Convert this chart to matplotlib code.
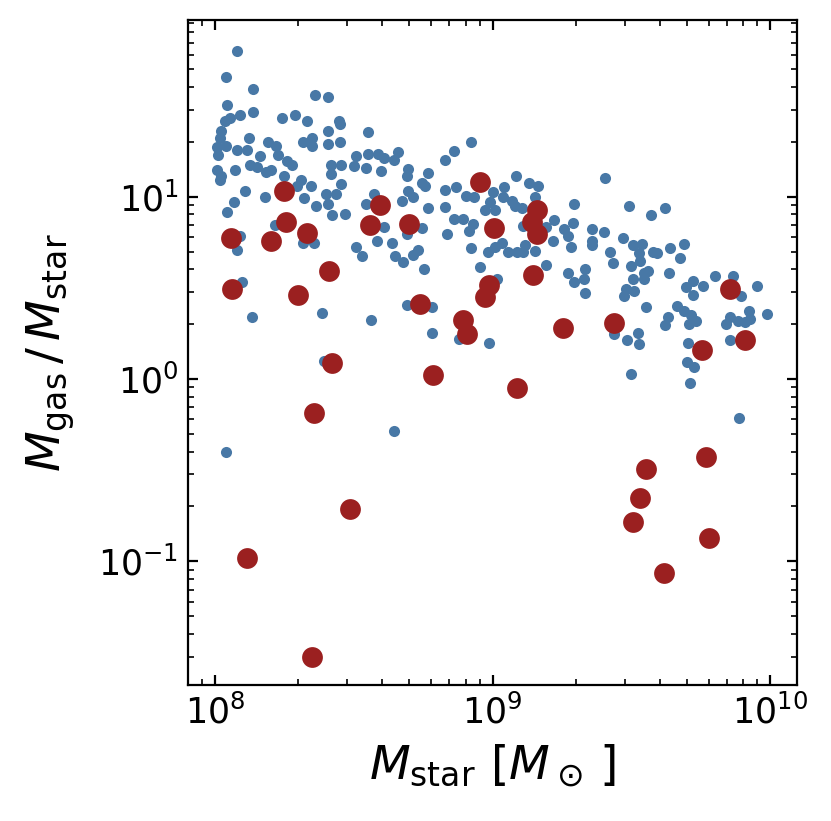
import matplotlib
matplotlib.use("Agg")
import matplotlib.pyplot as plt
import numpy as np

# stellar mass in units of 1e8 Msun, gas-to-stellar mass ratio
field_mstar = [
    1.20, 1.10, 1.37, 1.11, 1.37, 1.23, 1.13, 1.09, 1.74, 1.95, 2.15, 2.30, 2.55, 2.80, 2.82,
    1.05, 1.04, 1.02, 1.10, 1.03, 1.33, 1.55, 1.66, 1.69, 1.20, 1.30, 2.08, 2.24, 2.24, 2.55,
    2.55, 2.82, 1.02, 1.05, 1.04, 1.18, 1.34, 1.45, 1.42, 1.53, 1.59, 1.82, 1.89, 1.77, 1.97,
    2.05, 2.22, 2.62, 2.84, 2.62, 2.84, 1.28, 1.51, 1.17, 1.11, 2.10, 2.32, 2.51, 2.73, 2.55,
    2.65, 2.94, 1.65, 1.23, 1.20, 1.25, 1.36, 2.44, 2.47, 2.07, 2.28, 1.10, 4.43,
    3.55, 3.22, 3.55, 3.88, 4.05, 4.55, 4.40, 3.16, 3.49, 3.95, 4.97, 4.93, 5.87, 5.57, 5.71,
    6.75, 7.26, 8.40, 6.75, 7.38, 8.00, 8.55, 4.97, 5.18, 4.73, 3.75, 3.49, 5.87, 6.75, 10.0,
    9.8, 9.4, 10.2,
    4.05, 3.85, 4.36, 3.22, 3.38, 4.47, 4.77, 5.18, 5.40, 5.66, 4.93, 5.57, 7.26, 7.80, 8.20,
    8.50, 6.88, 8.40, 9.00, 9.60, 10.25, 4.93, 6.05, 3.64, 6.05, 7.60, 9.70, 10.4,
    12.2, 13.5, 14.6, 25.5, 11.0, 10.9, 11.8, 12.1, 12.8, 14.2, 16.7, 19.6, 19.5, 18.1, 18.7,
    19.2, 22.9, 22.9, 22.9, 25.3, 29.5, 31.0, 37.2, 32.0, 34.7, 33.8, 34.1, 26.4, 27.2, 31.6,
    35.2, 36.3, 32.1, 30.2, 32.3, 29.7, 21.5, 21.3, 18.7, 19.6, 21.5, 16.5, 15.6, 14.2, 13.1,
    12.3, 11.4, 12.9, 10.8, 12.9, 15.6,
    35.2, 35.7, 27.5, 30.6, 33.5, 33.8, 31.6,
    41.8, 38.0, 39.2, 43.6, 48.9, 47.3, 43.3, 52.6, 49.7, 52.6, 57.1, 63.1, 73.5, 78.7, 89.9,
    46.1, 48.9, 51.8, 54.0, 50.9, 42.9, 41.8, 69.6, 72.0, 76.8, 83.6, 84.3, 80.9, 97.3, 72.0,
    50.5, 50.1, 53.0, 51.3, 77.5,
]
field_ratio = [
    63, 45, 39, 32, 29, 28, 27, 26, 27, 28, 26, 36, 35, 26, 25,
    23, 21, 18.7, 19, 17, 21, 20, 19, 17, 18, 18, 20, 21, 19, 23,
    19.5, 20, 14, 13, 12.4, 14, 15, 16.6, 14.6, 13.6, 14, 15.6, 15, 13, 11.5,
    12.3, 11.4, 15, 15, 13.3, 11.8, 10.8, 10, 9.4, 8.2, 9.8, 8.9, 10.4, 10.4, 9.1,
    7.9, 8.0, 7.0, 6.1, 5.1, 3.4, 2.2, 2.3, 1.26, 5.6, 5.55, 0.40, 0.52,
    22.7, 16.7, 17.2, 17.2, 16.2, 17.6, 15.8, 14.8, 14.3, 13.8, 14.1, 12.9, 13.5, 11.9, 11.5,
    15.8, 17.8, 20, 10.9, 11.3, 10.1, 9.9, 10.8, 10, 9.5, 10.4, 9.1, 8.7, 8.8, 10.6,
    9.4, 8.4, 8.4,
    6.8, 5.7, 5.6, 5.3, 4.7, 4.75, 4.4, 4.8, 5.1, 4.0, 6.2, 6.7, 7.55, 7.55, 6.5,
    7.1, 6.2, 5.2, 4.1, 5.0, 5.3, 2.54, 2.47, 2.1, 1.78, 1.65, 1.58, 3.55,
    12.9, 11.9, 11.5, 12.6, 11.3, 10.0, 9.5, 8.9, 8.7, 10, 7.45, 9.1, 7.2, 6.65, 6.1,
    5.3, 6.65, 5.7, 5.4, 6.4, 5.9, 8.9, 7.9, 5.4, 5.5, 4.9, 4.45, 5.0, 4.3, 4.15,
    3.8, 3.9, 3.55, 3.1, 3.05, 2.85, 4.0, 3.55, 3.8, 3.4, 2.95, 5.7, 4.2, 5.05, 5.4,
    4.95, 4.95, 5.0, 5.6, 6.9, 6.8,
    3.55, 2.48, 1.76, 1.64, 1.78, 1.56, 1.07,
    8.7, 5.0, 4.9, 5.2, 5.5, 4.6, 3.8, 3.45, 3.2, 2.9, 3.25, 3.65, 3.65, 2.85, 3.25,
    2.5, 2.35, 2.24, 2.07, 2.0, 2.2, 1.97, 2.0, 2.2, 2.08, 2.35, 2.13, 2.05, 2.28, 1.64,
    1.58, 1.24, 1.17, 0.95, 0.61,
]

sample_mstar = [
    1.14, 1.15, 1.78, 1.81, 1.59, 2.14, 2.58, 2.00, 2.64, 2.28, 1.30, 3.07, 2.24, 3.63, 3.94,
    5.01, 5.48, 6.12, 7.80, 8.07, 8.98, 9.36, 9.70, 10.1, 12.3, 14.5, 13.9, 14.5, 14.0, 18.0,
    27.3, 57.0, 72.0, 81.0, 59.0, 35.6, 33.9, 32.2, 60.0, 41.5,
]
sample_ratio = [
    5.9, 3.12, 10.8, 7.25, 5.7, 6.3, 3.9, 2.88, 1.23, 0.65, 0.105, 0.194, 0.030, 7.0, 9.0,
    7.08, 2.58, 1.05, 2.1, 1.77, 12.1, 2.8, 3.28, 6.75, 0.89, 8.5, 7.25, 6.2, 3.72, 1.91,
    2.04, 1.45, 3.12, 1.64, 0.372, 0.32, 0.224, 0.165, 0.135, 0.086,
]

field_mstar = np.array(field_mstar) * 1e8
sample_mstar = np.array(sample_mstar) * 1e8

fig = plt.figure(figsize=(4.155, 4.105), dpi=200)
ax = fig.add_axes([188 / 831, 136 / 821, 609 / 831, 665 / 821])

ax.scatter(field_mstar, field_ratio, s=16, color="#4878a6", linewidths=0, zorder=2)
ax.scatter(sample_mstar, sample_ratio, s=56, color="#9b2020", linewidths=0, zorder=3)

ax.set_xscale("log")
ax.set_yscale("log")
ax.set_xlim(8e7, 1.25e10)
ax.set_ylim(0.021, 93)

ax.tick_params(which="both", direction="in", top=True, right=True, labelsize=12.5)
ax.set_xlabel(r"$M_{\rm star}\ [M_\odot\,]$", fontsize=17)
ax.set_ylabel(r"$M_{\rm gas}\,/\,M_{\rm star}$", fontsize=17, labelpad=7.5)

fig.savefig("out.png", dpi=200)
